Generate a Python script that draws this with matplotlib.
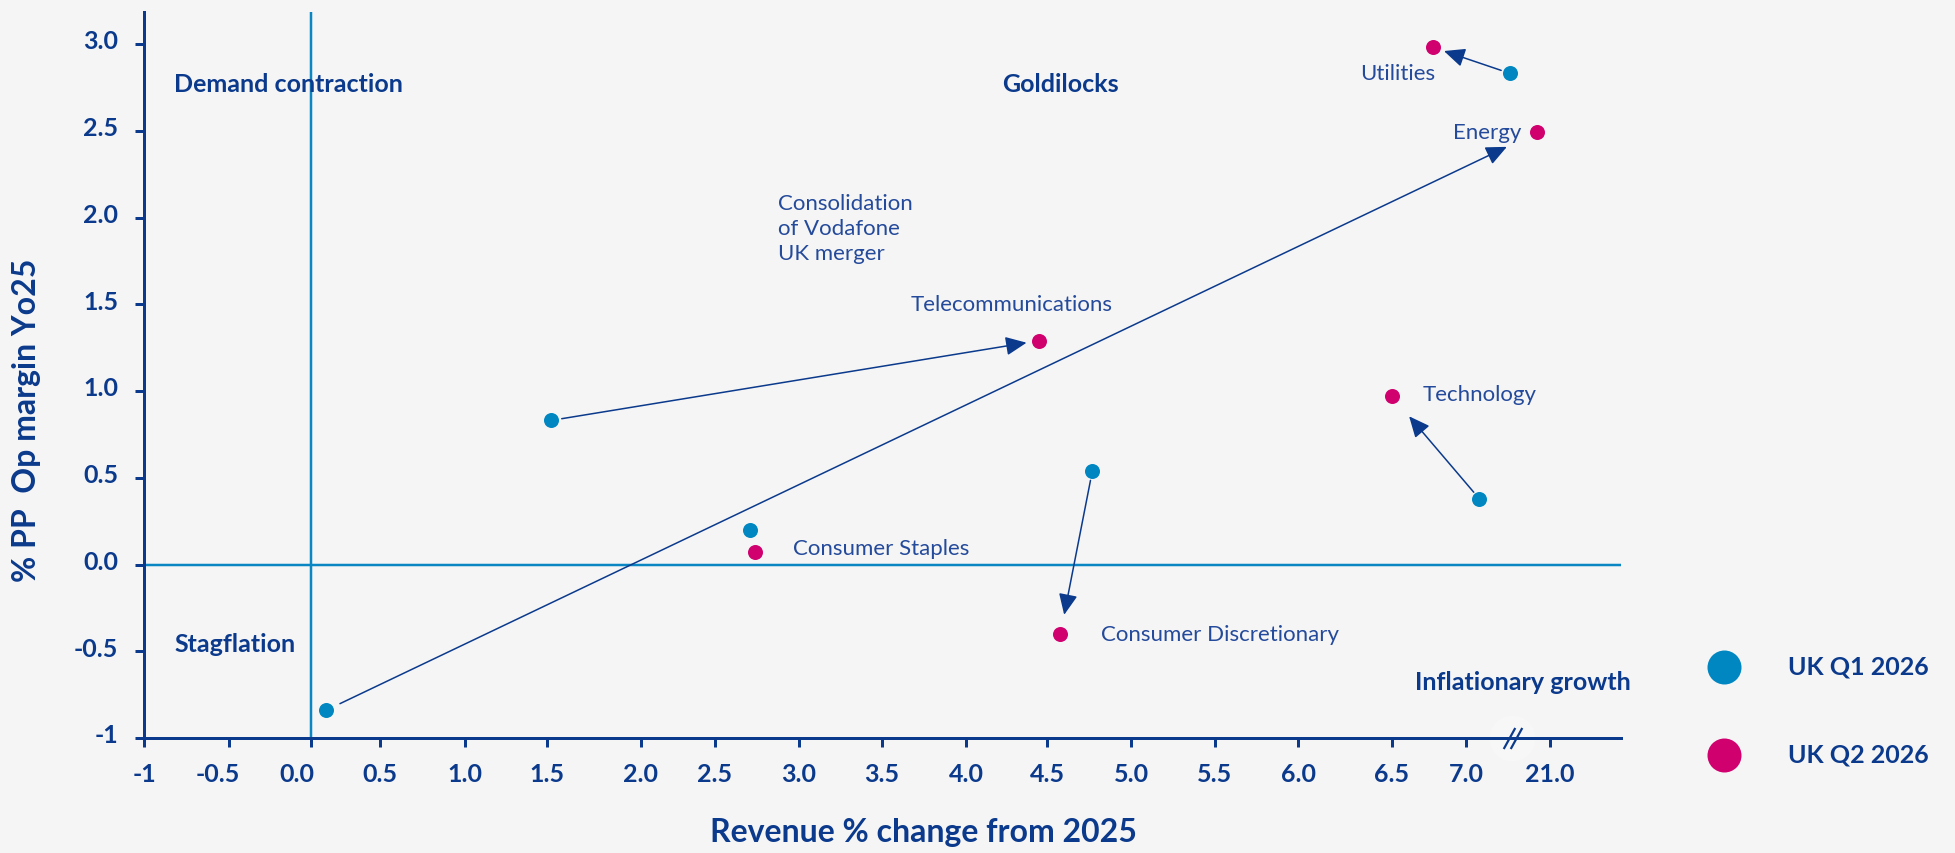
import numpy as np
import matplotlib
matplotlib.use("Agg")
import matplotlib.pyplot as plt
from matplotlib.transforms import ScaledTranslation

# ---------------- data ----------------
sectors = ["Utilities", "Energy", "Telecommunications", "Technology",
           "Consumer Staples", "Consumer Discretionary"]
q1_revenue = [7.27, 0.11, 1.52, 7.08, 2.71, 4.77]
q1_margin = [2.83, -0.84, 0.83, 0.38, 0.20, 0.54]
q2_revenue = [6.78, 20.92, 4.45, 6.50, 2.74, 4.58]
q2_margin = [2.98, 2.49, 1.29, 0.97, 0.07, -0.40]
series_names = ["UK Q1 2026", "UK Q2 2026"]

x_tick_values = [-1, -0.5, 0, 0.5, 1, 1.5, 2, 2.5, 3, 3.5, 4, 4.5, 5, 5.5, 6, 6.5, 7.0, 21.0]
x_tick_labels = ["-1", "-0.5", "0.0", "0.5", "1.0", "1.5", "2.0", "2.5", "3.0", "3.5",
                 "4.0", "4.5", "5.0", "5.5", "6.0", "6.5", "7.0", "21.0"]
y_tick_values = [-1, -0.5, 0, 0.5, 1, 1.5, 2, 2.5, 3]
y_tick_labels = ["-1", "-0.5", "0.0", "0.5", "1.0", "1.5", "2.0", "2.5", "3.0"]

quadrants = ["Demand contraction", "Goldilocks", "Stagflation", "Inflationary growth"]
note_text = "Consolidation\nof Vodafone\nUK merger"

# ---------------- layout / style ----------------
W, H = 1955, 854
BG = "#f5f5f5"
DARK = "#0b3a8c"
LABEL_C = "#244a9b"
BLUE = "#0087c1"
MAGENTA = "#d0006f"
LINE_BLUE = "#0a86c2"
PX = 72 / 100  # points per pixel at dpi 100

# broken, hand-spaced horizontal axis (value -> pixel position)
scale_vals = [-1, -0.5, 0, 0.5, 1, 1.5, 2, 2.5, 3, 3.5, 4, 4.5, 5, 5.5, 6, 6.5, 7.0,
              7.28, 20.77, 21.0, 21.43]
scale_pos = [144, 229, 311, 380, 465, 547, 641, 715, 799, 882, 966, 1047, 1131, 1215,
             1298, 1392, 1466, 1512, 1512.5, 1550, 1621]
SLOPE = 166.0


def fwd(v):
    v = np.asarray(v, dtype=float)
    out = np.interp(v, scale_vals, scale_pos)
    out = np.where(v < scale_vals[0], scale_pos[0] + (v - scale_vals[0]) * SLOPE, out)
    out = np.where(v > scale_vals[-1], scale_pos[-1] + (v - scale_vals[-1]) * SLOPE, out)
    return out


def inv(p):
    p = np.asarray(p, dtype=float)
    out = np.interp(p, scale_pos, scale_vals)
    out = np.where(p < scale_pos[0], scale_vals[0] + (p - scale_pos[0]) / SLOPE, out)
    out = np.where(p > scale_pos[-1], scale_vals[-1] + (p - scale_pos[-1]) / SLOPE, out)
    return out


plt.rcParams["font.family"] = ["Lato", "DejaVu Sans"]

fig = plt.figure(figsize=(W / 100, H / 100), dpi=100, facecolor=BG)
ax_left, ax_right, ax_top, ax_bottom = 144, 1621, 13, 739
ax = fig.add_axes([ax_left / W, (H - ax_bottom) / H, (ax_right - ax_left) / W,
                   (ax_bottom - ax_top) / H])
ax.set_facecolor(BG)
ax.set_xscale("function", functions=(fwd, inv))
ax.set_xlim(-1, 21.43)
ax.set_ylim(-1, 3.0 + 32 / 173.5)

for s in ["top", "right"]:
    ax.spines[s].set_visible(False)
for s in ["left", "bottom"]:
    ax.spines[s].set_color(DARK)
    ax.spines[s].set_linewidth(3 * PX)
    ax.spines[s].set_zorder(4)

ax.set_xticks(x_tick_values)
ax.set_xticklabels(x_tick_labels)
ax.set_yticks(y_tick_values)
ax.set_yticklabels(y_tick_labels)
ax.xaxis.set_minor_locator(matplotlib.ticker.NullLocator())
ax.tick_params(axis="both", direction="out", length=9 * PX, width=3 * PX, color=DARK,
               labelcolor=DARK, labelsize=18)
ax.tick_params(axis="y", pad=12)
ax.tick_params(axis="x", pad=11)
for t in ax.get_xticklabels() + ax.get_yticklabels():
    t.set_fontweight("bold")
# labels sit slightly above their y ticks in the original
for t in ax.get_yticklabels():
    t.set_transform(t.get_transform() + ScaledTranslation(0, 5 / 100, fig.dpi_scale_trans))
# a couple of x labels are nudged left in the original
x_label_shift = {"-0.5": -11, "0.0": -14}
for t, txt in zip(ax.get_xticklabels(), x_tick_labels):
    if txt in x_label_shift:
        t.set_transform(t.get_transform() +
                        ScaledTranslation(x_label_shift[txt] / 100, 0, fig.dpi_scale_trans))

# quadrant dividers
ax.axhline(0, color=LINE_BLUE, lw=2.5 * PX, zorder=1)
ax.axvline(0, color=LINE_BLUE, lw=2.5 * PX, zorder=1)

# axis break mark
xb = inv(1512.0)
ax.plot([xb], [-1], marker="o", ms=46 * PX, color="#f7f7f7", mew=0, zorder=2, clip_on=False)
brk = [(-0.55, -1), (0.55, 1)]
for dx in (-3.5, 3.5):
    tr = ax.transData + ScaledTranslation(dx / 100, 0, fig.dpi_scale_trans)
    ax.plot([xb], [-1], marker=brk, ms=21 * PX, mew=2.2 * PX, color=DARK,
            transform=tr, zorder=6, clip_on=False)

# arrows Q1 -> Q2
shrink_a = [7, 11, 8, 6, None, 7]
shrink_b = [8, 24, 9, 19, None, 14]
for i in range(len(sectors)):
    if shrink_a[i] is None:
        continue
    ax.annotate("", xy=(q2_revenue[i], q2_margin[i]), xytext=(q1_revenue[i], q1_margin[i]),
                arrowprops=dict(arrowstyle="-|>,head_length=0.8,head_width=0.36",
                                mutation_scale=16, color=DARK, lw=1.1,
                                shrinkA=shrink_a[i], shrinkB=shrink_b[i]),
                zorder=2)

# points
ax.scatter(q1_revenue, q1_margin, s=(15 * PX) ** 2, color=BLUE, linewidths=0, zorder=5,
           label=series_names[0], clip_on=False)
ax.scatter(q2_revenue, q2_margin, s=(15 * PX) ** 2, color=MAGENTA, linewidths=0, zorder=5,
           label=series_names[1], clip_on=False)

# sector labels (offsets in pixels from Q2 point)
label_off = [(2.3, -25.7, "right"), (-15.3, 0, "right"), (-128.3, 37, "left"),
             (30.3, 2, "left"), (38, 4.7, "left"), (41, 0, "left")]
for i, name in enumerate(sectors):
    dx, dy, ha = label_off[i]
    ax.annotate(name, xy=(q2_revenue[i], q2_margin[i]), xytext=(dx * PX, dy * PX),
                textcoords="offset points", ha=ha, va="center", fontsize=16,
                color=LABEL_C, zorder=6)

# note
fig.text(778 / W, 1 - 229 / H, note_text, ha="left", va="center", fontsize=16,
         color=LABEL_C, linespacing=1.3)

# quadrant labels
qpos = [(174, 85, "left"), (1060, 85, "center"), (174, 645, "left"), (1523, 683, "center")]
for name, (x, y, ha) in zip(quadrants, qpos):
    fig.text(x / W, 1 - y / H, name, ha=ha, va="center", fontsize=18, fontweight="bold",
             color=DARK)

# axis titles
fig.text(923 / W, 1 - 833 / H, "Revenue % change from 2025", ha="center", va="center",
         fontsize=23, fontweight="bold", color=DARK)
fig.text(27 / W, 1 - 420 / H, "% PP  Op margin Yo25", ha="center", va="center",
         rotation=90, fontsize=23, fontweight="bold", color=DARK)

# legend
leg = ax.legend(loc="center left", bbox_to_anchor=(1705 / W, 1 - 711.5 / H),
                bbox_transform=fig.transFigure, frameon=False, markerscale=34 / 15,
                handlelength=1.5, handletextpad=1.8, labelspacing=2.6, borderpad=0,
                borderaxespad=0, fontsize=18)
for t in leg.get_texts():
    t.set_color(DARK)
    t.set_fontweight("bold")

fig.savefig("out.png", dpi=100, facecolor=BG)
